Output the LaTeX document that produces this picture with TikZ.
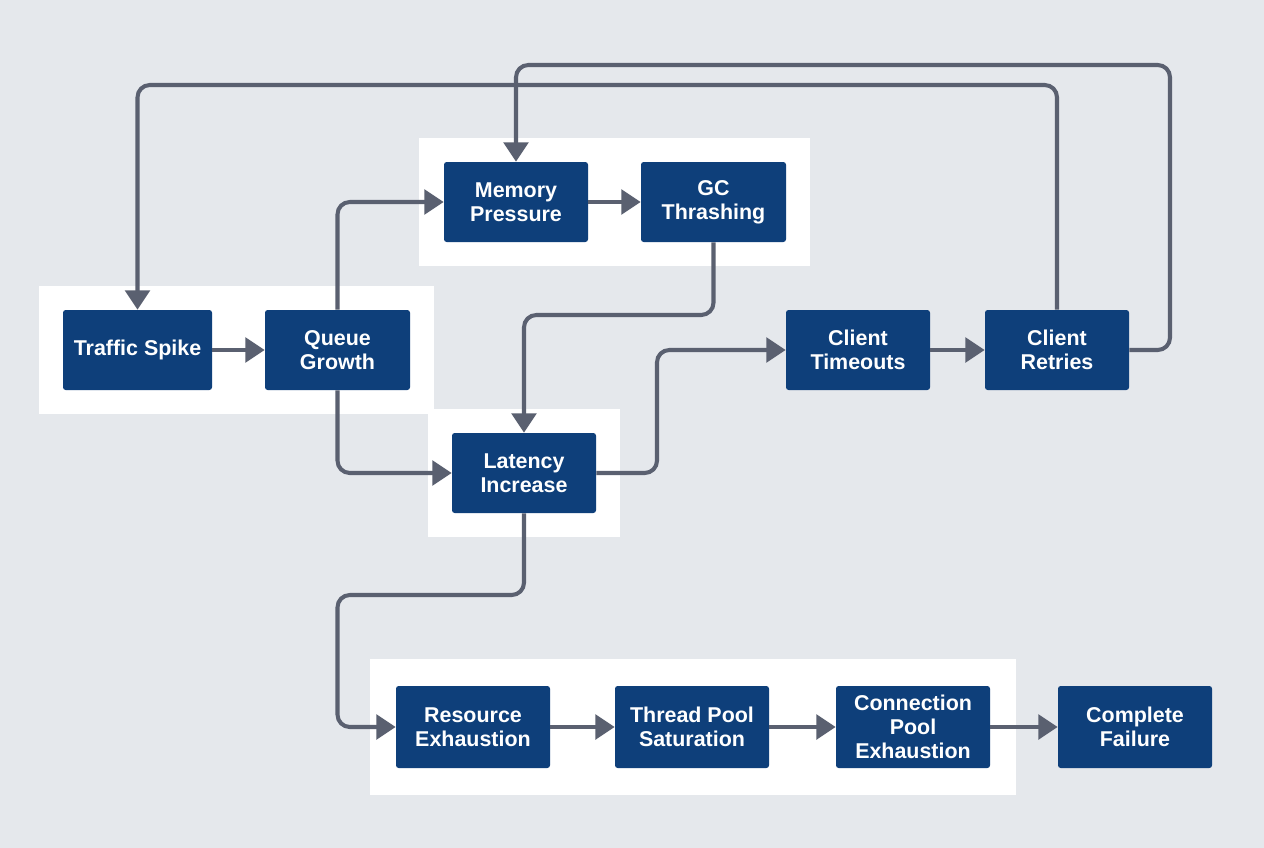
\documentclass[tikz,border=0pt]{standalone}
\usepackage{fontspec}
\setmainfont{Liberation Sans}
\usetikzlibrary{arrows.meta}
\definecolor{bgc}{HTML}{E5E8EC}
\definecolor{boxc}{HTML}{0E3F7A}
\definecolor{linec}{HTML}{5A6070}
\begin{document}
\begin{tikzpicture}[x=0.02cm,y=-0.02cm,
  stepbox/.style={draw=none,fill=boxc,rounded corners=1.5pt,text=white,font=\bfseries\fontsize{12.2}{13.8}\selectfont,align=center,inner sep=0pt},
  conn/.style={draw=linec,line width=2.3pt,rounded corners=7pt,-{Triangle[length=11pt,width=14pt]}}]
\fill[bgc] (0,0) rectangle (1264,848);
\useasboundingbox (0,0) rectangle (1264,848);
% panels
\fill[white] (39,286) rectangle (434,414);
\fill[white] (419,138) rectangle (810,266);
\fill[white] (428,409) rectangle (620,537);
\fill[white] (370,659) rectangle (1016,795);
% nodes
\node[stepbox,minimum width=149*0.02cm,minimum height=80*0.02cm] (ts) at (137.5,350) {Traffic Spike};
\node[stepbox,minimum width=145*0.02cm,minimum height=80*0.02cm] (qg) at (337.5,350) {Queue\\Growth};
\node[stepbox,minimum width=144*0.02cm,minimum height=80*0.02cm] (mp) at (516,202) {Memory\\Pressure};
\node[stepbox,minimum width=145*0.02cm,minimum height=80*0.02cm] (gc) at (713.5,202) {GC\\Thrashing};
\node[stepbox,minimum width=144*0.02cm,minimum height=80*0.02cm] (li) at (524,473) {Latency\\Increase};
\node[stepbox,minimum width=144*0.02cm,minimum height=80*0.02cm] (ct) at (858,350) {Client\\Timeouts};
\node[stepbox,minimum width=144*0.02cm,minimum height=80*0.02cm] (cr) at (1057,350) {Client\\Retries};
\node[stepbox,minimum width=154*0.02cm,minimum height=82*0.02cm] (re) at (473,727) {Resource\\Exhaustion};
\node[stepbox,minimum width=154*0.02cm,minimum height=82*0.02cm] (tp) at (692,727) {Thread Pool\\Saturation};
\node[stepbox,minimum width=154*0.02cm,minimum height=82*0.02cm] (cp) at (913,727) {Connection\\Pool\\Exhaustion};
\node[stepbox,minimum width=154*0.02cm,minimum height=82*0.02cm] (cf) at (1135,727) {Complete\\Failure};
% connectors
\draw[conn] (ts) -- (qg);
\draw[conn] (qg.north) -- (337.5,202) -- (mp.west);
\draw[conn] (mp) -- (gc);
\draw[conn] (gc.south) -- (713.5,315) -- (524,315) -- (li.north);
\draw[conn] (qg.south) -- (337.5,473) -- (li.west);
\draw[conn] (li.east) -- (657,473) -- (657,350) -- (ct.west);
\draw[conn] (ct) -- (cr);
\draw[conn] (cr.north) -- (1057,85) -- (137.5,85) -- (ts.north);
\draw[conn] (cr.east) -- (1170,350) -- (1170,65) -- (516,65) -- (mp.north);
\draw[conn] (li.south) -- (524,595) -- (337.5,595) -- (337.5,727) -- (re.west);
\draw[conn] (re) -- (tp);
\draw[conn] (tp) -- (cp);
\draw[conn] (cp) -- (cf);
\end{tikzpicture}
\end{document}
